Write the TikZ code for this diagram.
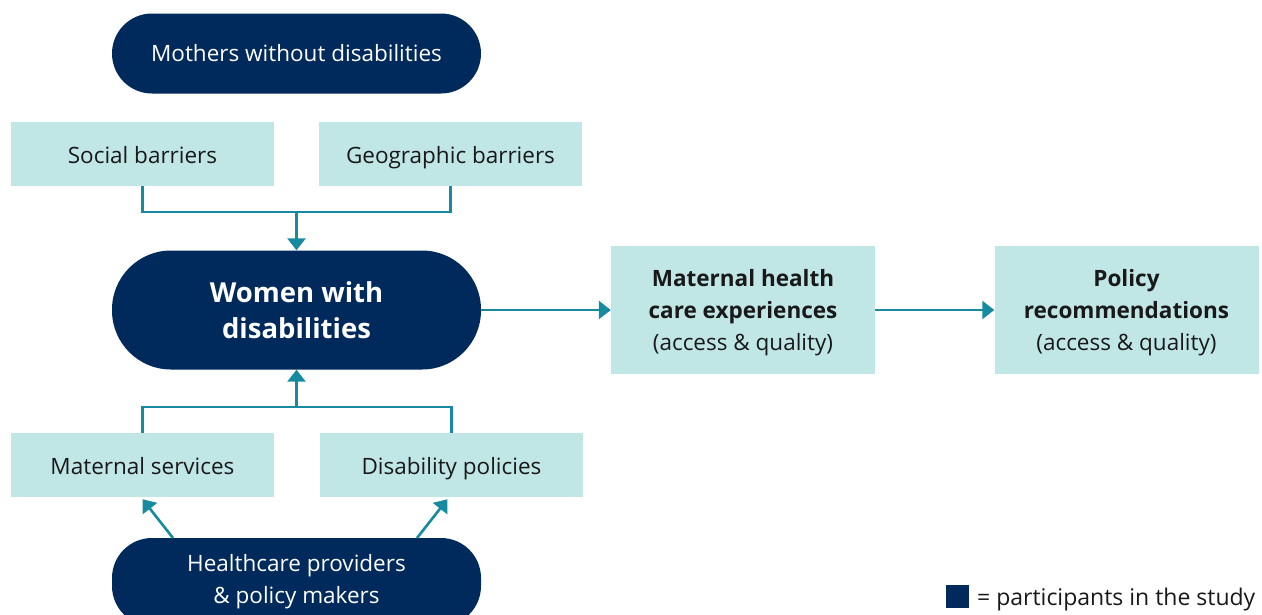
\documentclass[tikz,border=0pt]{standalone}
\usepackage{fontspec}
\setmainfont{Open Sans}
\usetikzlibrary{arrows.meta,calc}
\definecolor{navy}{HTML}{002A5C}
\definecolor{paleteal}{HTML}{C0E6E6}
\definecolor{linkteal}{HTML}{168A9E}
\begin{document}
\begin{tikzpicture}[x=1pt,y=-1pt,
  pill/.style={draw=none,fill=navy,rounded corners=40pt,text=white,align=center,
    minimum width=369pt,font=\fontsize{22.5}{32}\selectfont},
  factor/.style={fill=paleteal,minimum width=263pt,minimum height=64pt,
    text height=20pt,text depth=2pt,
    font=\fontsize{22.5}{32}\selectfont,text=black!90},
  outcome/.style={fill=paleteal,minimum width=264pt,minimum height=128pt,align=center,
    text depth=-2pt,
    font=\fontsize{22.5}{32}\selectfont,text=black!90},
  link/.style={draw=linkteal,line width=2.6pt,
    -{Triangle[length=12pt,width=18pt]}},
  plain/.style={draw=linkteal,line width=2.6pt}]
\useasboundingbox (0,0) rectangle (1262,614);
% participant groups
\node[pill,minimum height=80pt] (mothers) at (296.5,53.5) {Mothers without disabilities};
\node[pill,minimum height=119pt,rounded corners=59pt,font=\fontsize{27.5}{36}\selectfont\bfseries] (women) at (296.5,310) {Women with\\disabilities};
\node[pill,minimum height=88pt] (hcp) at (296.5,582) {Healthcare providers\\\& policy makers};
% contextual factors
\node[factor] (social) at (142.5,154) {Social barriers};
\node[factor] (geo) at (450.5,154) {Geographic barriers};
\node[factor] (services) at (142.5,465) {Maternal services};
\node[factor] (policies) at (451.5,465) {Disability policies};
% outcomes
\node[outcome] (care) at (743,310) {\textbf{Maternal health}\\\textbf{care experiences}\\(access \& quality)};
\node[outcome] (recs) at (1126.5,310) {\textbf{Policy}\\\textbf{recommendations}\\(access \& quality)};
% barriers feed into the women
\coordinate (topjoin) at (296.5,212);
\draw[plain] (social.south) |- (topjoin) -| (geo.south);
\draw[link] (topjoin) -- (women.north);
% services and policies feed into the women
\coordinate (botjoin) at (296.5,407);
\draw[plain] (services.north) |- (botjoin) -| (policies.north);
\draw[link] (botjoin) -- (women.south);
% providers shape services and policies
\coordinate (hcleft) at (173,538);
\coordinate (hcright) at (417,538);
\draw[link] (hcleft) -- ($(services.south)+(0,2)$);
\draw[link] (hcright) -- ($(policies.south)+(-4,2)$);
% pathway to outcomes
\draw[link] (women.east) -- (care.west);
\draw[link] (care.east) -- (recs.west);
% legend
\node[fill=navy,minimum size=23pt,inner sep=0pt] (key) at (957.5,596.5) {};
\node[anchor=west,font=\fontsize{23}{26}\selectfont,text=black!90,inner sep=0pt] (keytext) at (977,600) {= participants in the study};
\end{tikzpicture}
\end{document}
